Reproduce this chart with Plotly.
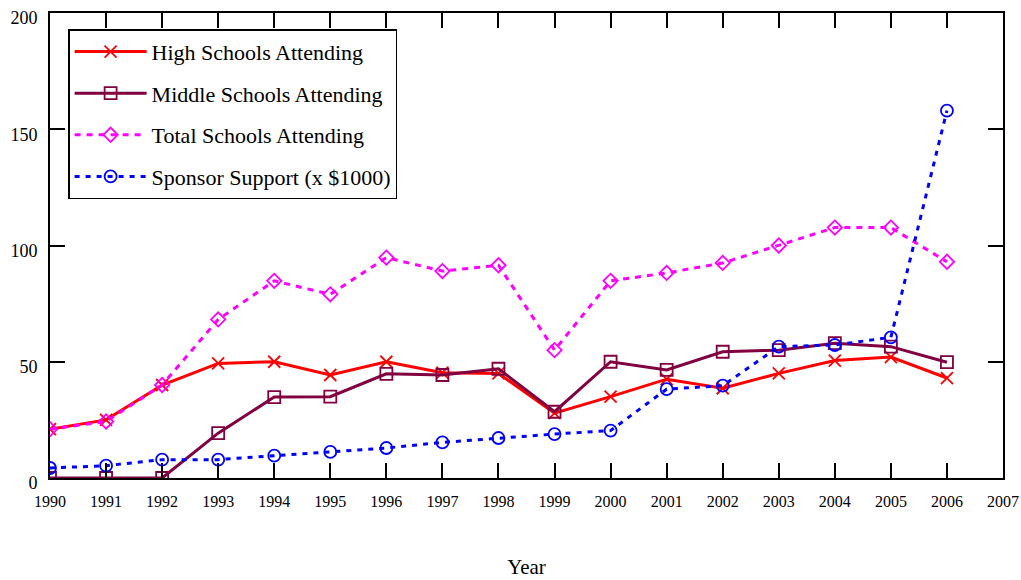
import plotly.graph_objects as go

years = list(range(1990, 2007))
high_schools = [21, 25, 40, 49.3, 50, 44.3, 50, 45.3, 45, 27.9, 35, 42.5, 38.6, 45, 50.5, 52, 43]
middle_schools = [0, 0, 0, 19.3, 34.8, 35, 44.8, 44.3, 47, 28.5, 50, 46.5, 54.3, 55, 58, 56.5, 49.8]
total_schools = [21, 24.3, 40, 68.2, 84.8, 79, 94.8, 89, 91.5, 55, 84.8, 88.2, 92.5, 100, 107.7, 107.7, 93]
sponsor = [4.3, 5.3, 7.9, 7.9, 9.6, 11.2, 12.9, 15.3, 17.2, 18.9, 20.4, 38.2, 39.7, 56.5, 57.2, 60.5, 158]

x_ticks = list(range(1990, 2008))
y_ticks = [0, 50, 100, 150, 200]

FONT = "Liberation Serif"

series = [
    ("High Schools Attending", high_schools, "#ff0000", "solid", "x-thin-open", 12),
    ("Middle Schools Attending", middle_schools, "#800040", "solid", "square-open", 12),
    ("Total Schools Attending", total_schools, "#ff00ff", "6px,6px", "diamond-open", 11),
    ("Sponsor Support (x $1000)", sponsor, "#0000ff", "5px,6px", "circle-open", 12),
]

fig = go.Figure()
for i, (name, vals, color, dash, sym, size) in enumerate(series):
    fig.add_trace(go.Scatter(
        x=years, y=vals, name=name, mode="lines+markers",
        legendgroup=str(i),
        line=dict(color=color, width=3, dash=dash),
        marker=dict(symbol=sym, size=size, color=color, line=dict(color=color, width=1.8)),
    ))

fig.update_layout(
    width=1021, height=580,
    margin=dict(l=50, r=18, t=13, b=102),
    paper_bgcolor="white", plot_bgcolor="white",
    font=dict(family=FONT, color="black", size=16),
    showlegend=True,
    legend=dict(
        x=0.019, y=0.965, xanchor="left", yanchor="top",
        bgcolor="white", bordercolor="black", borderwidth=1.5,
        font=dict(family=FONT, size=22, color="black"),
        tracegroupgap=10, itemwidth=72,
    ),
)
fig.update_xaxes(
    range=[1990, 2007], tickvals=x_ticks, ticktext=[str(t) for t in x_ticks],
    ticks="inside", ticklen=15, tickwidth=1.5, tickcolor="black",
    showline=True, linecolor="black", linewidth=2, mirror="ticks",
    showgrid=False, zeroline=False, automargin=False,
    tickfont=dict(family=FONT, size=16), ticklabelstandoff=8,
    ticklabeloverflow="allow",
    title=dict(text="Year", font=dict(family=FONT, size=21), standoff=50),
)
fig.update_yaxes(
    range=[0, 200], tickvals=y_ticks,
    ticks="inside", ticklen=15, tickwidth=1.5, tickcolor="black",
    showline=True, linecolor="black", linewidth=2, mirror="ticks",
    showgrid=False, zeroline=False, automargin=False,
    tickfont=dict(family=FONT, size=18), ticklabelshift=5, ticklabelstandoff=7,
    ticklabeloverflow="allow",
)

fig.write_html(
    "out.html",
    config={"displayModeBar": False},
    post_script="document.body.style.margin='0';document.body.style.overflow='hidden';",
)
